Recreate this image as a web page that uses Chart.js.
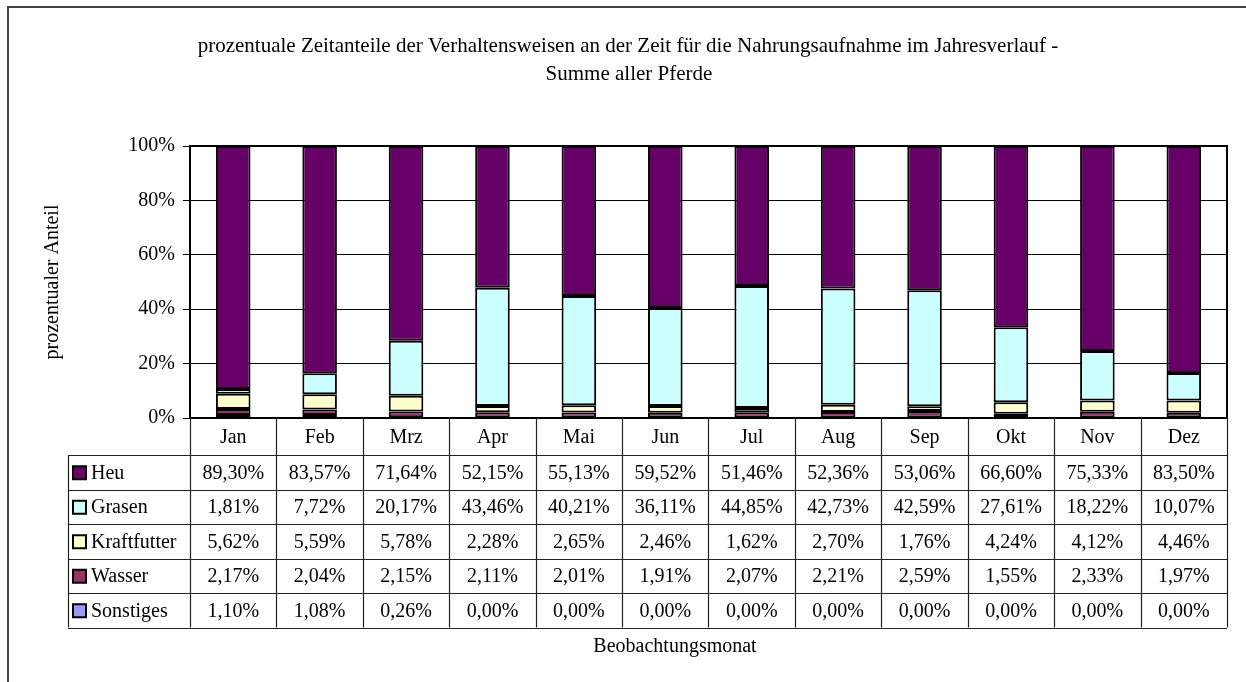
<!DOCTYPE html>
<html>
<head>
<meta charset="utf-8">
<script src="https://cdn.jsdelivr.net/npm/chart.js@4.4.0/dist/chart.umd.min.js"></script>
<style>
  html, body { margin: 0; background: #fff; }
  #wrap { width: 1246px; height: 682px; position: relative; }
</style>
</head>
<body>
<div id="wrap"><canvas id="chart" width="1246" height="682"></canvas></div>
<script>
"use strict";

// --- Daten -------------------------------------------------------------------

const monate = ["Jan", "Feb", "Mrz", "Apr", "Mai", "Jun", "Jul", "Aug", "Sep", "Okt", "Nov", "Dez"];

const heu =         [89.30, 83.57, 71.64, 52.15, 55.13, 59.52, 51.46, 52.36, 53.06, 66.60, 75.33, 83.50];
const grasen =      [1.81, 7.72, 20.17, 43.46, 40.21, 36.11, 44.85, 42.73, 42.59, 27.61, 18.22, 10.07];
const kraftfutter = [5.62, 5.59, 5.78, 2.28, 2.65, 2.46, 1.62, 2.70, 1.76, 4.24, 4.12, 4.46];
const wasser =      [2.17, 2.04, 2.15, 2.11, 2.01, 1.91, 2.07, 2.21, 2.59, 1.55, 2.33, 1.97];
const sonstiges =   [1.10, 1.08, 0.26, 0.00, 0.00, 0.00, 0.00, 0.00, 0.00, 0.00, 0.00, 0.00];

const yTicks = [0, 20, 40, 60, 80, 100];

const titel = [
  "prozentuale Zeitanteile der Verhaltensweisen an der Zeit für die Nahrungsaufnahme im Jahresverlauf -",
  "Summe aller Pferde",
];
const yTitel = "prozentualer Anteil";
const xTitel = "Beobachtungsmonat";

// --- Stil --------------------------------------------------------------------

const FONT = "'Liberation Serif', 'Times New Roman', serif";
const FS = 20;

// Stapelreihenfolge von unten nach oben
const reihen = [
  { label: "Sonstiges", data: sonstiges, color: "#9999ff" },
  { label: "Wasser", data: wasser, color: "#993366" },
  { label: "Kraftfutter", data: kraftfutter, color: "#ffffcc" },
  { label: "Grasen", data: grasen, color: "#ccffff" },
  { label: "Heu", data: heu, color: "#660066" },
];

const fmtPct = (v) => v.toFixed(2).replace(".", ",") + "%";

// --- Plugin: Rahmen, Titel, Datentabelle -------------------------------------

const TABLE_LEFT = 68;
const HEAD_H = 37;
const ROW_H = 34.5;

const dekor = {
  id: "dekor",
  afterDraw(chart) {
    const { ctx, chartArea: a, scales: { x } } = chart;
    const n = monate.length;
    const cw = x.width / n;
    const edge = (i) => x.getPixelForValue(i) - cw / 2;
    const tabRows = reihen.slice().reverse();
    const headBottom = a.bottom + HEAD_H;
    const tabBottom = headBottom + ROW_H * tabRows.length;

    ctx.save();

    // Zeichnungsflaeche
    ctx.strokeStyle = "#000";
    ctx.lineWidth = 2;
    ctx.strokeRect(a.left, a.top, a.right - a.left, a.bottom - a.top);

    // Titel
    ctx.fillStyle = "#000";
    ctx.textAlign = "center";
    ctx.textBaseline = "alphabetic";
    ctx.font = `21px ${FONT}`;
    ctx.fillText(titel[0], 628, 52);
    ctx.fillText(titel[1], 629, 80);

    // Achsentitel
    ctx.font = `${FS}px ${FONT}`;
    ctx.fillText(xTitel, 675, 652);
    ctx.save();
    ctx.translate(53, (a.top + a.bottom) / 2);
    ctx.rotate(-Math.PI / 2);
    ctx.textBaseline = "middle";
    ctx.fillText(yTitel, 0, 0);
    ctx.restore();

    // Tabellenlinien
    ctx.strokeStyle = "#222";
    ctx.lineWidth = 1.2;
    ctx.beginPath();
    for (let i = 0; i <= n; i++) {
      const xe = Math.round(edge(i)) + 0.5;
      ctx.moveTo(xe, a.bottom);
      ctx.lineTo(xe, tabBottom);
    }
    ctx.moveTo(TABLE_LEFT + 0.5, headBottom);
    ctx.lineTo(TABLE_LEFT + 0.5, tabBottom);
    for (let r = 0; r <= tabRows.length; r++) {
      const yy = Math.round(headBottom + r * ROW_H) + 0.5;
      ctx.moveTo(TABLE_LEFT, yy);
      ctx.lineTo(a.right, yy);
    }
    ctx.stroke();

    // Monatsnamen
    ctx.textAlign = "center";
    ctx.textBaseline = "middle";
    monate.forEach((m, i) => {
      ctx.fillText(m, x.getPixelForValue(i), a.bottom + HEAD_H / 2 + 1);
    });

    // Zeilen mit Legendenkaestchen
    tabRows.forEach((s, r) => {
      const yc = headBottom + r * ROW_H + ROW_H / 2 + 1;
      ctx.fillStyle = s.color;
      ctx.fillRect(TABLE_LEFT + 5, yc - 7, 13, 13);
      ctx.strokeStyle = "#000";
      ctx.lineWidth = 2;
      ctx.strokeRect(TABLE_LEFT + 5, yc - 7, 13, 13);
      ctx.fillStyle = "#000";
      ctx.textAlign = "left";
      ctx.fillText(s.label, TABLE_LEFT + 23, yc);
      ctx.textAlign = "center";
      s.data.forEach((v, i) => {
        ctx.fillText(fmtPct(v), x.getPixelForValue(i), yc);
      });
    });

    // Aussenrahmen
    ctx.strokeStyle = "#444";
    ctx.lineWidth = 2;
    ctx.strokeRect(8, 7, 1260, 700);

    ctx.restore();
  },
};

// --- Diagramm ----------------------------------------------------------------

new Chart(document.getElementById("chart"), {
  type: "bar",
  data: {
    labels: monate,
    datasets: reihen.map((s) => ({
      label: s.label,
      data: s.data,
      backgroundColor: s.color,
      borderColor: "#000",
      borderWidth: 2,
      borderSkipped: false,
      barPercentage: 0.4,
      categoryPercentage: 1,
    })),
  },
  options: {
    responsive: false,
    animation: false,
    devicePixelRatio: 1,
    layout: { padding: { top: 146, right: 19, bottom: 264, left: 0 } },
    plugins: {
      legend: { display: false },
      title: { display: false },
      tooltip: { enabled: false },
    },
    scales: {
      x: { stacked: true, display: false },
      y: {
        stacked: true,
        min: 0,
        max: 100,
        afterFit: (s) => { s.width = 190; },
        afterBuildTicks: (s) => { s.ticks = yTicks.map((v) => ({ value: v })); },
        ticks: {
          callback: (v) => `${v}%`,
          color: "#000",
          font: { family: FONT, size: FS },
          padding: 8,
        },
        grid: { color: "#000", lineWidth: 1, tickLength: 7 },
        border: { color: "#000", width: 2 },
      },
    },
  },
  plugins: [dekor],
});
</script>
</body>
</html>
